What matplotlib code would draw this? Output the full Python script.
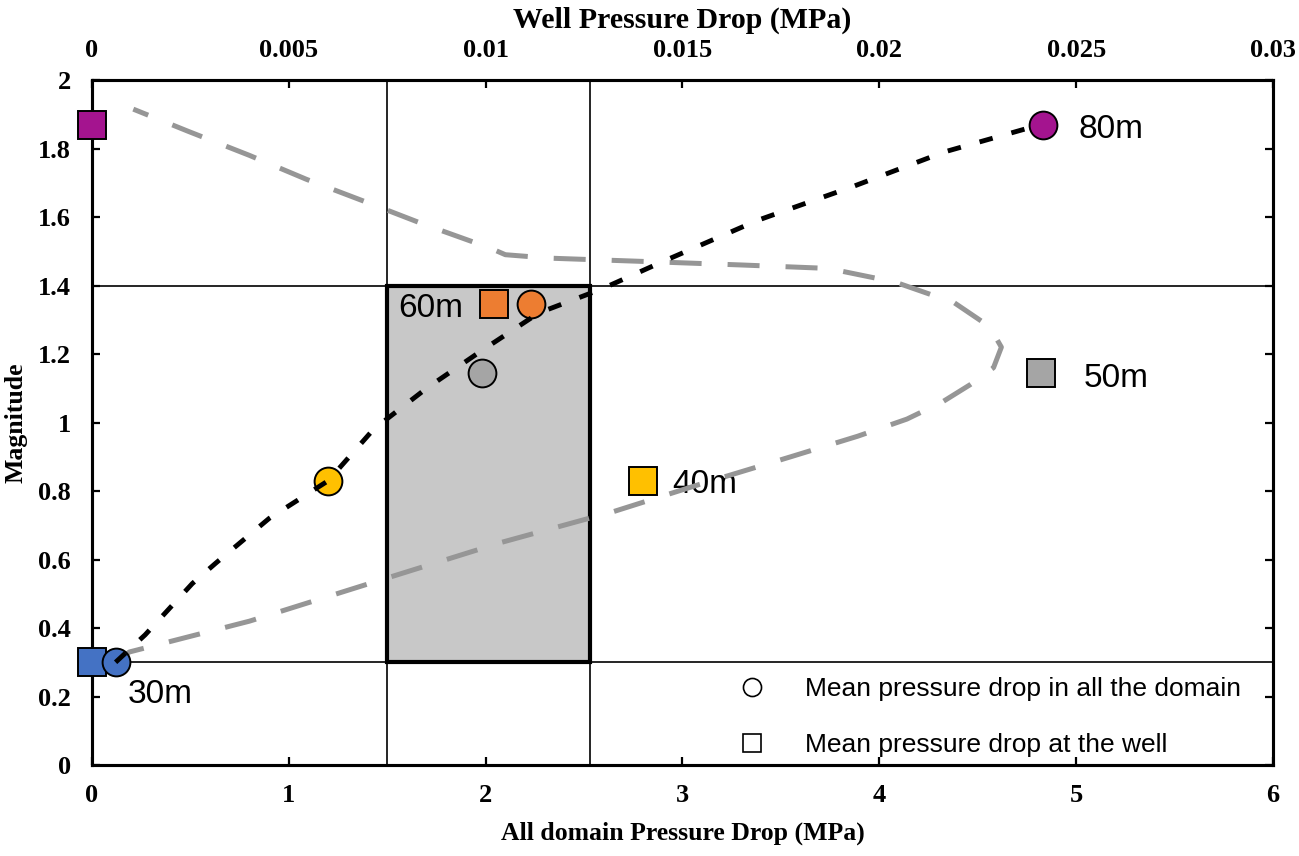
# Magnitude vs mean pressure drop (all domain and at the well) for each depth

import matplotlib
matplotlib.use("Agg")
import matplotlib.pyplot as plt
from matplotlib.lines import Line2D
from matplotlib.patches import Rectangle
from matplotlib.ticker import FuncFormatter, MultipleLocator

# Marker data (one entry per depth)
depths = ["30m", "40m", "50m", "60m", "80m"]
magnitude = [0.30, 0.83, 1.145, 1.345, 1.87]
domain_drop = [0.12, 1.20, 1.98, 2.23, 4.83]       # MPa, bottom axis
well_drop = [0.0, 0.0140, 0.0241, 0.0102, 0.0]      # MPa, top axis
colors = ["#4472C4", "#FFC000", "#A5A5A5", "#ED7D31", "#A4148F"]

# Depth label anchors (bottom axis units)
label_x = [0.18, 2.95, 5.04, 1.555, 5.01]
label_y = [0.215, 0.83, 1.14, 1.343, 1.865]

# Trend curve through the domain points (bottom axis units)
domain_trend_x = [0.12, 0.27, 0.51, 0.63, 0.90, 1.20, 1.43, 1.70, 1.98,
                  2.27, 2.59, 2.90, 3.38, 3.87, 4.33, 4.82]
domain_trend_y = [0.30, 0.38, 0.53, 0.59, 0.72, 0.83, 0.98, 1.10, 1.21,
                  1.32, 1.39, 1.47, 1.59, 1.69, 1.79, 1.87]

# Trend curve through the well points (top axis units)
well_trend_x = [0.0006, 0.00095, 0.0040, 0.00705, 0.0104, 0.01325, 0.01545,
                0.01775, 0.01945, 0.0207, 0.0216, 0.0223, 0.0229, 0.0231,
                0.0228, 0.0219, 0.0204, 0.0187, 0.0165, 0.0141, 0.0116,
                0.0105, 0.0101, 0.0084, 0.00705, 0.00545, 0.0040, 0.00245,
                0.00105]
well_trend_y = [0.30, 0.33, 0.42, 0.53, 0.65, 0.74, 0.82,
                0.90, 0.96, 1.01, 1.06, 1.11, 1.16, 1.22,
                1.28, 1.35, 1.41, 1.45, 1.46, 1.47, 1.48,
                1.49, 1.51, 1.58, 1.64, 1.71, 1.78, 1.85,
                1.915]

# Highlighted window
box_x = (1.5, 2.53)
box_y = (0.30, 1.40)

SERIF = "Liberation Serif"
SANS = "Liberation Sans"

fig = plt.figure(figsize=(12.99, 8.56), dpi=100)
ax = fig.add_axes([0.0708, 0.1063, 0.9092, 0.8002])
ax2 = ax.twiny()

# Shaded window and reference lines
ax.add_patch(Rectangle((box_x[0], box_y[0]), box_x[1] - box_x[0], box_y[1] - box_y[0],
                       facecolor="#c8c8c8", edgecolor="black", linewidth=3.0, zorder=1))
for xv in box_x:
    ax.axvline(xv, color="black", linewidth=1.2, zorder=1.5)
for yv in box_y:
    ax.axhline(yv, color="black", linewidth=1.2, zorder=1.5)

# Well trend and well markers (top axis)
ax2.plot(well_trend_x, well_trend_y, color="#969696", linewidth=3.6,
         dashes=(6.4, 5.2), zorder=2)
for wx, m, c in zip(well_drop, magnitude, colors):
    ax2.plot(wx, m, marker="s", ms=20, mfc=c, mec="black", mew=1.4,
             ls="none", zorder=3, clip_on=False)

# Domain markers and trend (bottom axis coordinates, drawn on top)
for dx, m, c in zip(domain_drop, magnitude, colors):
    ax2.plot(dx, m, marker="o", ms=20, mfc=c, mec="black", mew=1.4,
             ls="none", zorder=4, transform=ax.transData, clip_on=False)
ax2.plot(domain_trend_x, domain_trend_y, color="black", linewidth=3.5,
         dashes=(2.8, 4.0), zorder=5, transform=ax.transData)

# Depth labels
for name, lx, ly in zip(depths, label_x, label_y):
    ax.text(lx, ly, name, fontsize=24, family=SANS, ha="left",
            va="center_baseline", zorder=6)

# Axes
ax.set_xlim(0, 6)
ax.set_ylim(0, 2)
ax2.set_xlim(0, 0.03)
ax2.set_ylim(0, 2)

ax.xaxis.set_major_locator(MultipleLocator(1))
ax.yaxis.set_major_locator(MultipleLocator(0.2))
ax2.xaxis.set_major_locator(MultipleLocator(0.005))
fmt = FuncFormatter(lambda v, p: f"{v:g}")
ax.xaxis.set_major_formatter(fmt)
ax.yaxis.set_major_formatter(fmt)
ax2.xaxis.set_major_formatter(fmt)

ax.tick_params(axis="both", direction="in", length=6, width=1.6, pad=14,
               labelsize=19, right=True, top=False)
ax.tick_params(axis="y", pad=15)
ax2.tick_params(axis="x", direction="in", length=6, width=1.6, pad=13, labelsize=19)
for a in (ax, ax2):
    for lab in a.get_xticklabels() + a.get_yticklabels():
        lab.set_family(SERIF)
        lab.set_fontweight("bold")
    for s in a.spines.values():
        s.set_linewidth(2.2)

ax.set_xlabel("All domain Pressure Drop (MPa)", family=SERIF, fontweight="bold",
              fontsize=18.5, labelpad=10)
ax.set_ylabel("Magnitude", family=SERIF, fontweight="bold", fontsize=18.5, labelpad=8)
ax2.set_xlabel("Well Pressure Drop (MPa)", family=SERIF, fontweight="bold",
               fontsize=21.5, labelpad=8)

# Legend
handles = [
    Line2D([], [], marker="o", ls="none", ms=13, mfc="white", mec="black", mew=1.2),
    Line2D([], [], marker="s", ls="none", ms=13, mfc="white", mec="black", mew=1.2),
]
ax2.legend(handles, ["Mean pressure drop in all the domain", "Mean pressure drop at the well"],
           loc="lower left", bbox_to_anchor=(0.548, 0.012), frameon=False,
           prop={"family": SANS, "size": 19}, handlelength=1.0, handletextpad=1.5,
           labelspacing=1.2, borderpad=0, borderaxespad=0)

fig.savefig("out.png", dpi=100)
